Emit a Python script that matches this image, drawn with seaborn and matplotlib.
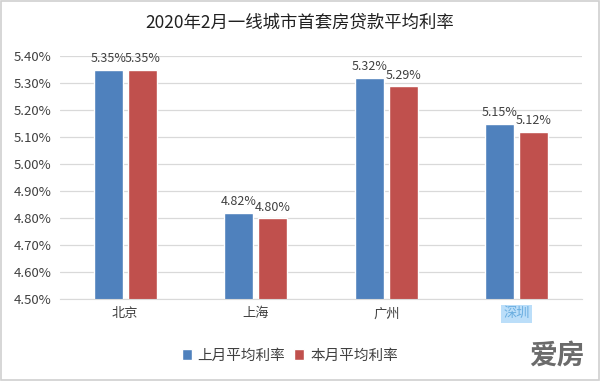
import pandas as pd
import matplotlib.pyplot as plt
import seaborn as sns
from matplotlib.ticker import FuncFormatter

# chart data
cities = ['北京', '上海', '广州', '深圳']
last_month = [5.35, 4.82, 5.32, 5.15]
this_month = [5.35, 4.80, 5.29, 5.12]
series = ['上月平均利率', '本月平均利率']
colors = ['#4F81BD', '#C0504D']

df = pd.DataFrame({
    'city': cities * 2,
    'rate': last_month + this_month,
    'series': [series[0]] * 4 + [series[1]] * 4,
})

sns.set_style('white')
plt.rcParams['font.family'] = ['Noto Sans CJK SC', 'DejaVu Sans']

fig = plt.figure(figsize=(6, 3.81), dpi=100)
ax = fig.add_axes([0.1, 0.215, 0.87, 0.638])

sns.barplot(data=df, x='city', y='rate', hue='series', palette=colors,
            width=0.52, gap=0.15, saturation=1, ax=ax)

ax.set_ylim(4.5, 5.4)
ax.set_yticks([4.5 + 0.1 * i for i in range(10)])
ax.yaxis.set_major_formatter(FuncFormatter(lambda v, p: f'{v:.2f}%'))
ax.grid(axis='y', color='#d9d9d9', linewidth=0.9)
ax.set_axisbelow(True)
for s in ['left', 'right', 'top']:
    ax.spines[s].set_visible(False)
ax.spines['bottom'].set_color('#d9d9d9')
ax.tick_params(axis='both', length=0, labelsize=9.5, colors='#404040', pad=6)
ax.set_xlabel('')
ax.set_ylabel('')

for cont in ax.containers:
    ax.bar_label(cont, labels=[f'{v:.2f}%' for v in cont.datavalues],
                 fontsize=9, color='#404040', padding=3, clip_on=False)

# 深圳 label sits on a light blue tab in the original
lbl = ax.get_xticklabels()[3]
lbl.set_color('#6aaee0')
lbl.set_bbox(dict(facecolor='#8ec9f5', edgecolor='none', pad=1.5, alpha=0.6))

ax.legend(loc='upper center', bbox_to_anchor=(0.44, -0.15), ncol=2, frameon=False,
          fontsize=10.5, handlelength=0.7, handleheight=0.7, handletextpad=0.4,
          columnspacing=0.6, labelcolor='#404040')

fig.suptitle('2020年2月一线城市首套房贷款平均利率', y=0.965, fontsize=12.5, color='#202020')

# watermark
fig.text(0.975, 0.03, '爱房', ha='right', va='bottom', fontsize=20, color='#6b6b6b',
         fontweight='bold', style='italic')

# light gray frame around the figure
fig.patches.append(plt.Rectangle((0.002, 0.003), 0.996, 0.994, transform=fig.transFigure,
                                 fill=False, edgecolor='#d0d0d0', linewidth=1.2))

plt.savefig('out.png', dpi=100)
